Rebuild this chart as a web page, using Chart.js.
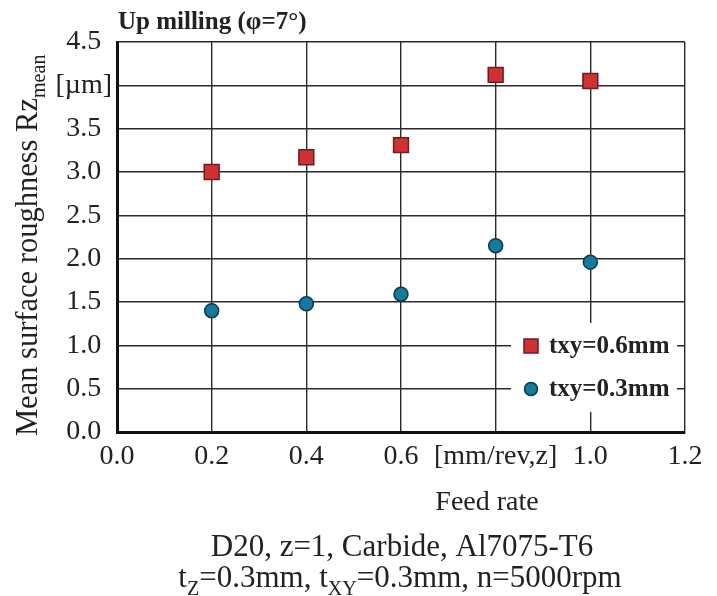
<!DOCTYPE html>
<html>
<head>
<meta charset="utf-8">
<script src="https://cdn.jsdelivr.net/npm/chart.js@4.4.0/dist/chart.umd.min.js"></script>
<style>
  html, body { margin: 0; padding: 0; background: #fff; }
  #wrap { width: 717px; height: 596px; }
</style>
</head>
<body>
<div id="wrap"><canvas id="chart" width="717" height="596"></canvas></div>
<script>
// values
var feedRate = [0.2, 0.4, 0.6, 0.8, 1.0];
var rz06 = [3.00, 3.17, 3.31, 4.12, 4.05];   // txy=0.6mm
var rz03 = [1.40, 1.48, 1.59, 2.15, 1.96];   // txy=0.3mm
var seriesNames = ['txy=0.6mm', 'txy=0.3mm'];
var xTicks = [0.0, 0.2, 0.4, 0.6, 0.8, 1.0, 1.2];
var yTicks = [0.0, 0.5, 1.0, 1.5, 2.0, 2.5, 3.0, 3.5, 4.0, 4.5];

var serif = '"Liberation Serif", "DejaVu Serif", serif';
var red = '#cf3236', redEdge = '#6e1c1c';
var blue = '#17799b', blueEdge = '#0b3b4f';

function pts(xs, ys) {
    return xs.map(function (x, i) { return { x: x, y: ys[i] }; });
}

// text with a subscript part
function subText(ctx, parts, x, y, size, align, subScale) {
    subScale = subScale || 0.65;
    var w = 0;
    parts.forEach(function (p) {
        ctx.font = (p.sub ? size * subScale : size) + 'px ' + serif;
        w += ctx.measureText(p.t).width;
    });
    var cx = align === 'center' ? x - w / 2 : x;
    parts.forEach(function (p) {
        ctx.font = (p.sub ? size * subScale : size) + 'px ' + serif;
        ctx.fillText(p.t, cx, p.sub ? y + size * 0.25 : y);
        cx += ctx.measureText(p.t).width;
    });
}

var extras = {
    id: 'extras',
    afterDraw: function (chart) {
        var ctx = chart.ctx;
        ctx.save();
        ctx.fillStyle = '#222';
        ctx.textBaseline = 'alphabetic';
        ctx.textAlign = 'left';

        // title
        ctx.font = 'bold 25px ' + serif;
        ctx.fillText('Up milling (\u03c6=7\u00b0)', 118, 29);

        // y axis title, rotated
        ctx.save();
        ctx.translate(37, 436);
        ctx.rotate(-Math.PI / 2);
        subText(ctx, [{ t: 'Mean surface roughness Rz' }, { t: 'mean', sub: true }], 0, 0, 30.5, 'left', 0.66);
        ctx.restore();

        // x axis title and captions
        subText(ctx, [{ t: 'Feed rate' }], 487, 510, 28, 'center');
        subText(ctx, [{ t: 'D20, z=1, Carbide, Al7075-T6' }], 402, 556, 31, 'center');
        subText(ctx, [{ t: 't' }, { t: 'Z', sub: true }, { t: '=0.3mm, t' }, { t: 'XY', sub: true },
            { t: '=0.3mm, n=5000rpm' }], 400, 587, 31, 'center');

        // legend inside the plot
        ctx.fillStyle = '#fff';
        ctx.fillRect(511, 323, 166, 89);
        var ys = [346, 389];
        chart.data.datasets.forEach(function (ds, i) {
            ctx.fillStyle = ds.backgroundColor;
            ctx.strokeStyle = ds.borderColor;
            ctx.lineWidth = 1.5;
            ctx.beginPath();
            if (ds.pointStyle === 'rect') ctx.rect(524, ys[i] - 7, 14, 14);
            else ctx.arc(531, ys[i], 6.5, 0, Math.PI * 2);
            ctx.fill();
            ctx.stroke();
            ctx.fillStyle = '#222';
            ctx.font = 'bold 25px ' + serif;
            ctx.textBaseline = 'middle';
            ctx.fillText(ds.label, 549, ys[i] + 1);
        });
        ctx.restore();
    }
};

new Chart(document.getElementById('chart').getContext('2d'), {
    type: 'scatter',
    data: {
        datasets: [
            {
                label: seriesNames[0],
                data: pts(feedRate, rz06),
                pointStyle: 'rect',
                pointRadius: 10.5,
                backgroundColor: red,
                borderColor: redEdge,
                borderWidth: 1.5
            },
            {
                label: seriesNames[1],
                data: pts(feedRate, rz03),
                pointStyle: 'circle',
                pointRadius: 7,
                backgroundColor: blue,
                borderColor: blueEdge,
                borderWidth: 1.5
            }
        ]
    },
    options: {
        responsive: false,
        animation: false,
        layout: { padding: { left: 0, top: 42, right: 32, bottom: 0 } },
        plugins: {
            legend: { display: false },
            tooltip: { enabled: false }
        },
        scales: {
            x: {
                type: 'linear',
                min: 0, max: 1.2,
                afterBuildTicks: function (s) { s.ticks = xTicks.map(function (v) { return { value: v }; }); },
                afterFit: function (s) { s.height = 164; },
                grid: { color: '#2a2a2a', lineWidth: 1.4, drawTicks: false },
                border: { color: '#111', width: 3 },
                ticks: {
                    color: '#222',
                    padding: 8,
                    autoSkip: false,
                    maxRotation: 0,
                    font: { family: serif, size: 28 },
                    callback: function (v) { return Math.abs(v - 0.8) < 1e-6 ? '[mm/rev,z]' : v.toFixed(1); }
                }
            },
            y: {
                min: 0, max: 4.5,
                afterBuildTicks: function (s) { s.ticks = yTicks.map(function (v) { return { value: v }; }); },
                afterFit: function (s) { s.width = 117; },
                grid: { color: '#2a2a2a', lineWidth: 1.4, drawTicks: false },
                border: { color: '#111', width: 3 },
                ticks: {
                    color: '#222',
                    padding: 5,
                    crossAlign: 'center',
                    autoSkip: false,
                    font: { family: serif, size: 28 },
                    callback: function (v) { return Math.abs(v - 4) < 1e-6 ? '[\u00b5m]' : v.toFixed(1); }
                }
            }
        }
    },
    plugins: [extras]
});
</script>
</body>
</html>
